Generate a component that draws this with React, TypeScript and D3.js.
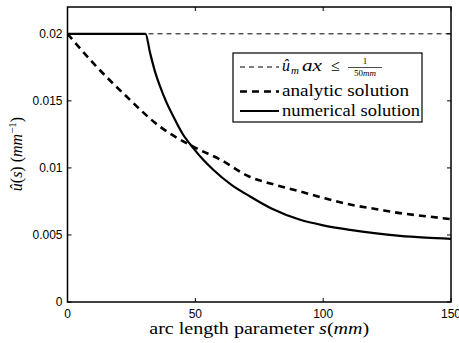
import React from "react";
import * as d3 from "d3";

const xTicks = [0, 50, 100, 150];
const yTicks = [0, 0.005, 0.01, 0.015, 0.02];
const yTickLabels = ["0", "0.005", "0.01", "0.015", "0.02"];
const uMax = 0.02;

const analyticS = [0, 10, 23, 36, 49, 60, 71, 81, 91, 101, 111, 121, 130, 140, 150];
const analyticU = [0.02, 0.01783, 0.01534, 0.0131, 0.0116, 0.0106, 0.00936, 0.00875, 0.00824, 0.00772, 0.00725, 0.00692, 0.00663, 0.0064, 0.00618];

const numericalS = [0, 30.5, 32.3, 34.2, 36.2, 38.8, 41.4, 45, 49.2, 53, 57, 64, 71.4, 80, 91, 100, 110.5, 120, 130, 140, 150];
const numericalU = [0.02, 0.02, 0.01858, 0.0172, 0.01608, 0.01485, 0.01384, 0.01255, 0.01148, 0.01062, 0.00986, 0.00875, 0.00787, 0.00695, 0.00613, 0.00572, 0.00538, 0.00513, 0.00493, 0.0048, 0.00471];

const W = 459, H = 343;
const L = 67.5, R = 451, T = 7, B = 302;

export default function App() {
  const x = d3.scaleLinear().domain([0, 150]).range([L, R]);
  const y = d3.scaleLinear().domain([0, 0.022]).range([B, T]);
  const line = d3.line<[number, number]>().x(d => x(d[0])).y(d => y(d[1])).curve(d3.curveMonotoneX);
  const analytic = line(analyticS.map((s, i) => [s, analyticU[i]] as [number, number]))!;
  const numerical = line(numericalS.map((s, i) => [s, numericalU[i]] as [number, number]))!;
  const serif = "'Liberation Serif', 'DejaVu Serif', serif";
  const sans = "'Liberation Sans', Arial, sans-serif";
  return (
    <svg width={W} height={H} style={{ position: "absolute", left: 0, top: 0, background: "#fff" }}>
      <rect x={0} y={0} width={W} height={H} fill="#fff" />
      <defs>
        <clipPath id="plot"><rect x={L} y={T} width={R - L} height={B - T} /></clipPath>
      </defs>
      <g clipPath="url(#plot)">
        <line x1={x(0)} x2={x(150)} y1={y(uMax)} y2={y(uMax)} stroke="#000" strokeWidth={1} strokeDasharray="5,4" />
        <path d={analytic} fill="none" stroke="#000" strokeWidth={2.6} strokeDasharray="7,5" />
        <path d={numerical} fill="none" stroke="#000" strokeWidth={2.2} />
      </g>
      <rect x={L} y={T} width={R - L} height={B - T} fill="none" stroke="#000" strokeWidth={1.5} />
      {xTicks.map(t => (
        <g key={"x" + t}>
          <line x1={x(t)} x2={x(t)} y1={B} y2={B - 4} stroke="#000" strokeWidth={1} />
          <line x1={x(t)} x2={x(t)} y1={T} y2={T + 4} stroke="#000" strokeWidth={1} />
          <text x={x(t)} y={B + 16} textAnchor="middle" fontFamily={sans} fontSize={12} fill="#000">{t}</text>
        </g>
      ))}
      {yTicks.map((t, i) => (
        <g key={"y" + t}>
          <line x1={L} x2={L + 4} y1={y(t)} y2={y(t)} stroke="#000" strokeWidth={1} />
          <line x1={R} x2={R - 4} y1={y(t)} y2={y(t)} stroke="#000" strokeWidth={1} />
          <text x={L - 5} y={y(t) + 4} textAnchor="end" fontFamily={sans} fontSize={12} fill="#000">{yTickLabels[i]}</text>
        </g>
      ))}
      <text x={(L + R) / 2} y={334} textAnchor="middle" fontFamily={serif} fontSize={16} fill="#000" textLength={220} lengthAdjust="spacingAndGlyphs">
        arc length parameter <tspan fontStyle="italic">s</tspan>(<tspan fontStyle="italic">mm</tspan>)
      </text>
      <text transform={`translate(22,154) rotate(-90)`} textAnchor="middle" fontFamily={serif} fontSize={16} fill="#000">
        <tspan fontStyle="italic">û</tspan>(<tspan fontStyle="italic">s</tspan>) (<tspan fontStyle="italic">mm</tspan><tspan dy={-6} fontSize={11}>−1</tspan><tspan dy={6}>)</tspan>
      </text>
      <rect x={233} y={53} width={189} height={69} fill="#fff" stroke="#000" strokeWidth={1.2} />
      <line x1={240} x2={279} y1={67} y2={67} stroke="#000" strokeWidth={1} strokeDasharray="5,4" />
      <text x={282} y={71} fontFamily={serif} fontSize={16} fontStyle="italic" fill="#000">û</text>
      <text x={291} y={74} fontFamily={serif} fontSize={11} fontStyle="italic" fill="#000">m</text>
      <text x={302} y={71} fontFamily={serif} fontSize={16} fontStyle="italic" fill="#000" textLength={20} lengthAdjust="spacingAndGlyphs">ax</text>
      <text x={331} y={71} fontFamily={serif} fontSize={16} fill="#000">≤</text>
      <text x={365} y={64} textAnchor="middle" fontFamily={serif} fontSize={9} fill="#000">1</text>
      <line x1={348} x2={382} y1={67.5} y2={67.5} stroke="#000" strokeWidth={0.7} />
      <text x={365} y={76} textAnchor="middle" fontFamily={serif} fontSize={9} fill="#000">50<tspan fontStyle="italic">mm</tspan></text>
      <line x1={240} x2={279} y1={91.5} y2={91.5} stroke="#000" strokeWidth={2.6} strokeDasharray="7,5" />
      <text x={282} y={96} fontFamily={serif} fontSize={16} fill="#000" textLength={127} lengthAdjust="spacingAndGlyphs">analytic solution</text>
      <line x1={240} x2={279} y1={111} y2={111} stroke="#000" strokeWidth={2.2} />
      <text x={282} y={116} fontFamily={serif} fontSize={16} fill="#000" textLength={138} lengthAdjust="spacingAndGlyphs">numerical solution</text>
    </svg>
  );
}
